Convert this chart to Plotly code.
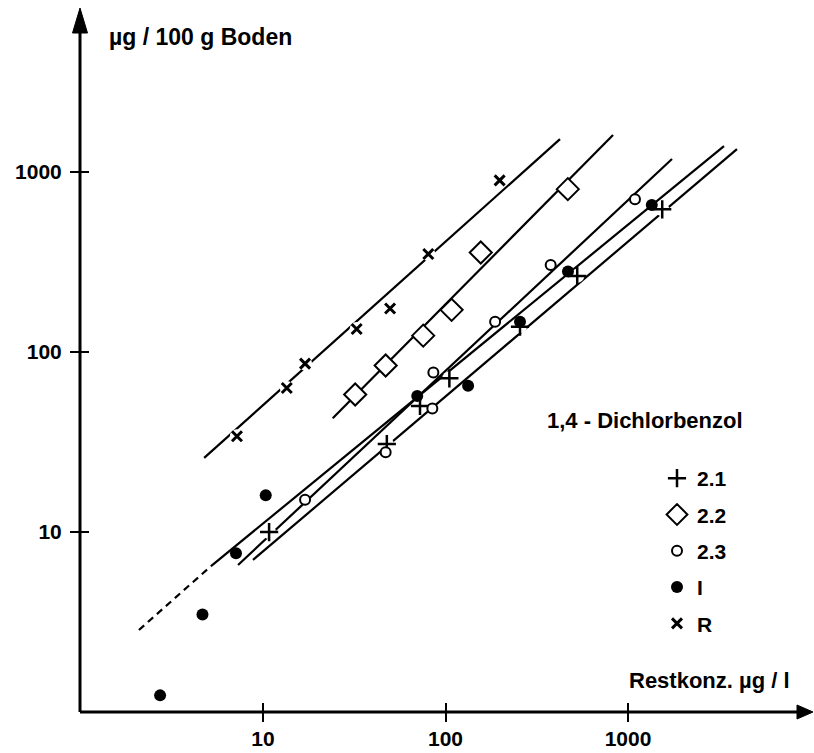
import plotly.graph_objects as go

# Restkonzentration (µg/l) gegen Bodengehalt (µg / 100 g) je Versuchsreihe
x_21 = [10.8, 47.7, 72.5, 105, 256, 527, 1540]
y_21 = [10.0, 30.8, 50.1, 71.3, 138, 264, 618]

x_22 = [32, 47, 75.5, 108, 156, 468]
y_22 = [58, 84, 123, 171, 356, 800]

x_23 = [17.0, 47.0, 84.7, 85.8, 187, 377, 1092]
y_23 = [15.1, 27.7, 48.5, 76.9, 147, 303, 702]

x_I = [2.73, 4.66, 7.11, 10.35, 70, 133, 256, 469, 1350]
y_I = [1.24, 3.49, 7.62, 16.0, 56.9, 64.8, 147, 279, 653]

x_R = [7.2, 13.5, 17.0, 32.6, 49.7, 80.5, 198]
y_R = [34, 63, 86, 134, 174, 349, 895]

# Ausgleichsgeraden (Anfangs- und Endpunkt)
fit_R_x, fit_R_y = [4.76, 424], [25.8, 1517]
fit_22_x, fit_22_y = [24.1, 828], [42.8, 1597]
fit_21_x, fit_21_y = [8.81, 3955], [7.0, 1334]
fit_23_x, fit_23_y = [7.30, 1742], [6.56, 1175]
fit_I_x, fit_I_y = [5.19, 3357], [6.47, 1387]
fit_I_ext_x, fit_I_ext_y = [2.09, 5.19], [2.86, 6.47]   # extrapolierter Teil

tick_vals = [10, 100, 1000]
tick_text = ["10", "100", "1000"]

W, H = 814, 753
L, R, T, B = 80, 800, 25, 712          # plot area in pixels
X_RANGE = [1 + (L - 263) / 182.5, 1 + (R - 263) / 182.5]
Y_RANGE = [1 - (B - 532) / 180.2, 3 + (171.7 - T) / 180.2]

FONT = "Liberation Sans, Arial, Helvetica, sans-serif"
BLACK = "#000000"
LW = 2.2


def px(x):
    return (x - L) / (R - L)


def py(y):
    return (B - y) / (B - T)


fig = go.Figure()

# regression lines
for fx, fy in [(fit_R_x, fit_R_y), (fit_22_x, fit_22_y), (fit_21_x, fit_21_y),
               (fit_23_x, fit_23_y), (fit_I_x, fit_I_y)]:
    fig.add_trace(go.Scatter(x=fx, y=fy, mode="lines", showlegend=False,
                             hoverinfo="skip",
                             line=dict(color=BLACK, width=LW)))
fig.add_trace(go.Scatter(x=fit_I_ext_x, y=fit_I_ext_y, mode="lines",
                         showlegend=False, hoverinfo="skip",
                         line=dict(color=BLACK, width=LW, dash="7px,5px")))

# white halos so lines break around the open symbols
for hx, hy in [(x_21, y_21), (x_R, y_R)]:
    fig.add_trace(go.Scatter(x=hx, y=hy, mode="markers", showlegend=False,
                             hoverinfo="skip",
                             marker=dict(symbol="circle", size=14, color="white",
                                         line=dict(width=0))))

# data series
fig.add_trace(go.Scatter(x=x_21, y=y_21, mode="markers", name="2.1",
                         legendgroup="a",
                         marker=dict(symbol="cross-thin-open", size=13,
                                     color=BLACK,
                                     line=dict(color=BLACK, width=2.5))))
fig.add_trace(go.Scatter(x=x_22, y=y_22, mode="markers", name="2.2",
                         legendgroup="b",
                         marker=dict(symbol="diamond", size=17, color="white",
                                     line=dict(color=BLACK, width=2))))
fig.add_trace(go.Scatter(x=x_23, y=y_23, mode="markers", name="2.3",
                         legendgroup="c",
                         marker=dict(symbol="circle", size=10, color="white",
                                     line=dict(color=BLACK, width=2))))
fig.add_trace(go.Scatter(x=x_I, y=y_I, mode="markers", name="I",
                         legendgroup="d",
                         marker=dict(symbol="circle", size=12, color=BLACK,
                                     line=dict(width=0))))
fig.add_trace(go.Scatter(x=x_R, y=y_R, mode="markers", name="R",
                         legendgroup="e",
                         marker=dict(symbol="x-thin-open", size=10,
                                     color=BLACK,
                                     line=dict(color=BLACK, width=3))))

# empty trace carrying the overlay axes (inner half of the crossing ticks)
fig.add_trace(go.Scatter(x=[], y=[], xaxis="x2", yaxis="y2",
                         showlegend=False, hoverinfo="skip"))

axis_common = dict(type="log", showgrid=False, zeroline=False, showline=False,
                   automargin=False,
                   tickvals=tick_vals, ticktext=tick_text,
                   tickwidth=2, ticklen=9, tickcolor=BLACK)
tick_font = dict(family=FONT, size=21, color=BLACK, weight="bold")

fig.update_layout(
    width=W, height=H,
    margin=dict(l=L, r=W - R, t=T, b=H - B, pad=0, autoexpand=False),
    paper_bgcolor="white", plot_bgcolor="white",
    xaxis=dict(range=X_RANGE, ticks="outside", ticklabelstandoff=-1,
               tickfont=tick_font, **axis_common),
    yaxis=dict(range=Y_RANGE, ticks="outside", ticklabelstandoff=4,
               tickfont=tick_font, **axis_common),
    xaxis2=dict(range=X_RANGE, overlaying="x", anchor="y2", side="bottom",
                ticks="inside", showticklabels=False, **axis_common),
    yaxis2=dict(range=Y_RANGE, overlaying="y", anchor="x2", side="left",
                ticks="inside", showticklabels=False, **axis_common),
    showlegend=True,
    legend=dict(x=px(657), xanchor="left", y=py(458), yanchor="top",
                bgcolor="rgba(0,0,0,0)", borderwidth=0,
                traceorder="grouped", tracegroupgap=6,
                font=dict(family=FONT, size=21, color=BLACK, weight="bold"),
                itemclick=False, itemdoubleclick=False),
    hovermode=False,
)

# axes with arrow heads
fig.add_shape(type="line", xref="paper", yref="paper",
              x0=0, y0=0, x1=0, y1=py(30), line=dict(color=BLACK, width=3))
fig.add_shape(type="line", xref="paper", yref="paper",
              x0=0, y0=0, x1=px(798), y1=0, line=dict(color=BLACK, width=3))
fig.add_shape(type="path", xref="paper", yref="paper",
              path=f"M {px(80)},{py(8)} L {px(72.5)},{py(33)} L {px(87.5)},{py(33)} Z",
              fillcolor=BLACK, line=dict(color=BLACK, width=1))
fig.add_shape(type="path", xref="paper", yref="paper",
              path=f"M {px(813)},{py(712)} L {px(797)},{py(705)} L {px(797)},{py(719)} Z",
              fillcolor=BLACK, line=dict(color=BLACK, width=1))

fig.add_annotation(text="µg / 100 g Boden", xref="paper", yref="paper",
                   x=px(107), y=py(37), xanchor="left", yanchor="middle",
                   showarrow=False,
                   font=dict(family=FONT, size=23, color=BLACK, weight="bold"))
fig.add_annotation(text="Restkonz. µg / l", xref="paper", yref="paper",
                   x=px(792), y=py(680), xanchor="right", yanchor="middle",
                   showarrow=False,
                   font=dict(family=FONT, size=22, color=BLACK, weight="bold"))
fig.add_annotation(text="1,4 - Dichlorbenzol", xref="paper", yref="paper",
                   x=px(545), y=py(420), xanchor="left", yanchor="middle",
                   showarrow=False,
                   font=dict(family=FONT, size=22, color=BLACK, weight="bold"))

fig.write_html("out.html")
